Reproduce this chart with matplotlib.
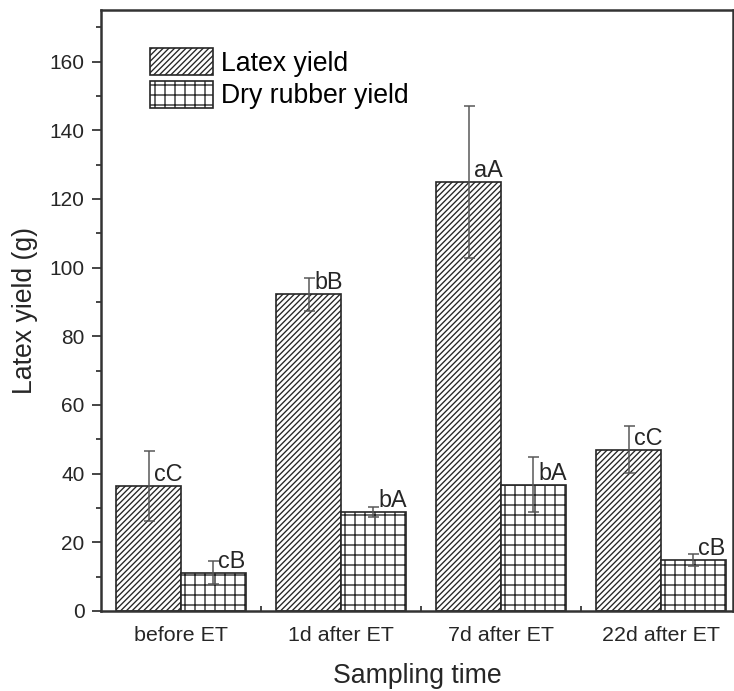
import matplotlib
matplotlib.use('Agg')
import matplotlib.pyplot as plt
import numpy as np
from matplotlib.ticker import MultipleLocator, FixedLocator

plt.rcParams['font.family'] = ['Liberation Sans', 'DejaVu Sans']
plt.rcParams['hatch.linewidth'] = 0.8
plt.rcParams['hatch.color'] = '#333333'

# data
groups = ['before ET', '1d after ET', '7d after ET', '22d after ET']
latex = [36.4, 92.3, 124.9, 47.0]
latex_err = [10.3, 4.8, 22.1, 6.8]
dry = [11.2, 28.8, 36.8, 14.9]
dry_err = [3.4, 1.5, 8.0, 1.7]
latex_sig = ['cC', 'bB', 'aA', 'cC']
dry_sig = ['cB', 'bA', 'bA', 'cB']

DPI = 120
fig = plt.figure(figsize=(734 / DPI, 691 / DPI), dpi=DPI)
ax = fig.add_axes([101 / 734, 80 / 691, 632 / 734, 601 / 691])

x = np.arange(len(groups))
w = 0.405
dark = '#262626'

ax.bar(x - w / 2, latex, w, color='white', edgecolor=dark, linewidth=1.0,
       hatch='///////', label='Latex yield', zorder=2)
ax.bar(x + w / 2, dry, w, color='white', edgecolor=dark, linewidth=1.0,
       hatch='++', label='Dry rubber yield', zorder=2)

ax.errorbar(x - w / 2, latex, yerr=latex_err, fmt='none', ecolor='#555555',
            elinewidth=0.9, capsize=3.3, capthick=0.9, zorder=3)
ax.errorbar(x + w / 2, dry, yerr=dry_err, fmt='none', ecolor='#555555',
            elinewidth=0.9, capsize=3.3, capthick=0.9, zorder=3)

for i in range(len(groups)):
    ax.text(x[i] - w / 2 + 0.035, latex[i], latex_sig[i], ha='left', va='bottom',
            fontsize=14, color=dark)
    ax.text(x[i] + w / 2 + 0.03, dry[i], dry_sig[i], ha='left', va='bottom',
            fontsize=14, color=dark)

ax.set_xlim(-0.5, 3.45)
ax.set_ylim(0, 175)

ax.yaxis.set_major_locator(MultipleLocator(20))
ax.yaxis.set_minor_locator(MultipleLocator(10))
ax.set_xticks(x)
ax.set_xticklabels(groups)
ax.xaxis.set_minor_locator(FixedLocator([0.5, 1.5, 2.5]))

ax.tick_params(axis='y', which='major', direction='out', length=5.4, width=1.0,
               pad=4.5, labelsize=12.5, colors=dark)
ax.tick_params(axis='y', which='minor', direction='out', length=3.0, width=1.0,
               colors=dark)
ax.tick_params(axis='x', which='major', length=0, pad=9, labelsize=12.8,
               colors=dark)
ax.tick_params(axis='x', which='minor', direction='in', length=3.0, width=1.0,
               colors=dark)

for s in ax.spines.values():
    s.set_linewidth(1.5)
    s.set_color('#333333')

ax.set_xlabel('Sampling time', fontsize=16, labelpad=11, color=dark)
ax.set_ylabel('Latex yield (g)', fontsize=16, labelpad=7, color=dark)

ax.legend(loc='upper left', bbox_to_anchor=(49 / 632, 1 - 38 / 601),
          frameon=False, fontsize=16, handlelength=2.35, handleheight=1.2,
          handletextpad=0.3, labelspacing=0.15, borderpad=0, borderaxespad=0)

fig.savefig('out.png', dpi=DPI)
